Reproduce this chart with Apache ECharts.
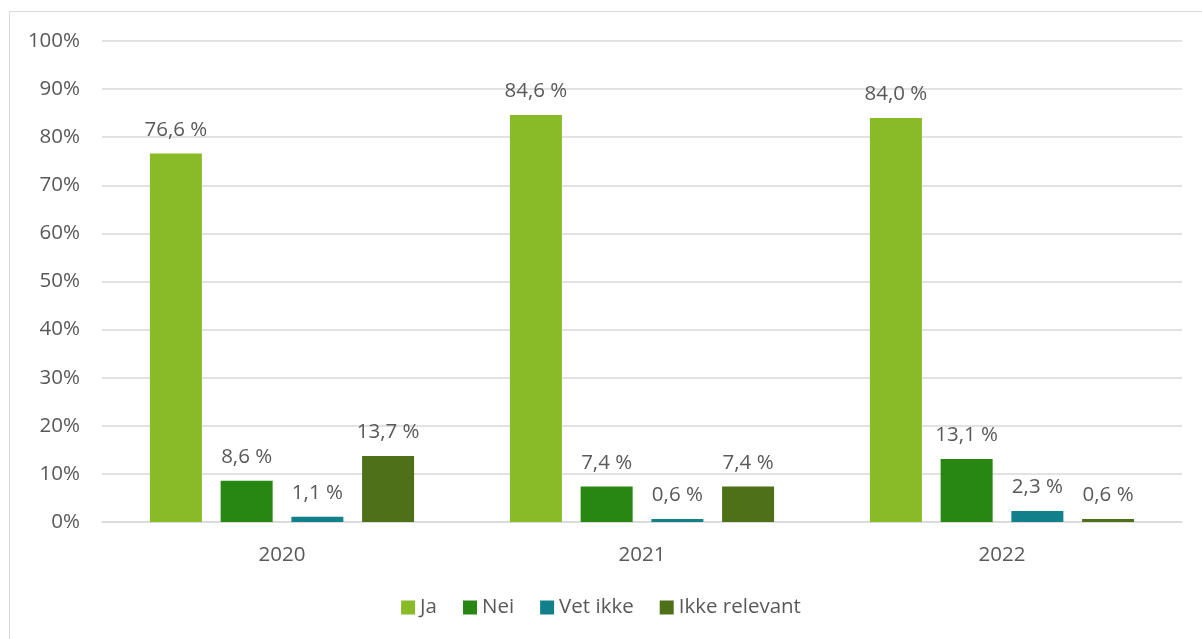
<!DOCTYPE html>
<html>
<head>
<meta charset="utf-8">
<script src="https://cdn.jsdelivr.net/npm/echarts@6/dist/echarts.min.js"></script>
<style>
  html, body { margin: 0; padding: 0; background: #fff; }
  #chart { width: 1202px; height: 639px; }
</style>
</head>
<body>
<div id="chart"></div>
<script>
// Survey answers per year, in percent
const years = ['2020', '2021', '2022'];
const ja = [76.6, 84.6, 84.0];
const nei = [8.6, 7.4, 13.1];
const vetIkke = [1.1, 0.6, 2.3];
const ikkeRelevant = [13.7, 7.4, 0.6];
const seriesNames = ['Ja', 'Nei', 'Vet ikke', 'Ikke relevant'];
const seriesColors = ['#89BB29', '#288712', '#12808B', '#4E7019'];
const yTicks = [0, 10, 20, 30, 40, 50, 60, 70, 80, 90, 100];

const font = '"Open Sans", "Liberation Sans", sans-serif';
const textColor = '#595959';
const fontSize = 20.5;

const chart = echarts.init(document.getElementById('chart'), null, { renderer: 'canvas' });

const values = [ja, nei, vetIkke, ikkeRelevant];

const option = {
  animation: false,
  backgroundColor: '#fff',
  graphic: [{
    type: 'rect',
    shape: { x: 9.5, y: 11.5, width: 1202, height: 700 },
    style: { fill: 'none', stroke: '#D9D9D9', lineWidth: 1 },
    silent: true
  }],
  grid: { left: 102, right: 20, top: 41, bottom: 117, containLabel: false },
  legend: {
    bottom: 16,
    left: 'center',
    itemWidth: 14,
    itemHeight: 14,
    itemGap: 26,
    icon: 'rect',
    textStyle: { color: textColor, fontSize: fontSize, fontFamily: font },
    data: seriesNames
  },
  xAxis: {
    type: 'category',
    data: years,
    axisLine: { show: true, lineStyle: { color: '#D9D9D9', width: 1.5 } },
    axisTick: { show: false },
    axisLabel: { color: textColor, fontSize: fontSize, fontFamily: font, margin: 23 }
  },
  yAxis: {
    type: 'value',
    min: yTicks[0],
    max: yTicks[yTicks.length - 1],
    interval: 10,
    axisLine: { show: false },
    axisTick: { show: false },
    splitLine: { lineStyle: { color: '#D9D9D9', width: 1.5 } },
    axisLabel: { color: textColor, fontSize: fontSize, fontFamily: font, margin: 22, formatter: v => v + '%' }
  },
  series: seriesNames.map((name, i) => ({
    name,
    type: 'bar',
    data: values[i],
    barWidth: 52,
    barGap: '36%',
    itemStyle: { color: seriesColors[i] },
    label: {
      show: true,
      position: 'top',
      distance: 13,
      color: textColor,
      fontSize: fontSize,
      fontFamily: font,
      formatter: p => p.value.toFixed(1).replace('.', ',') + ' %'
    }
  }))
};

chart.setOption(option);
</script>
</body>
</html>
